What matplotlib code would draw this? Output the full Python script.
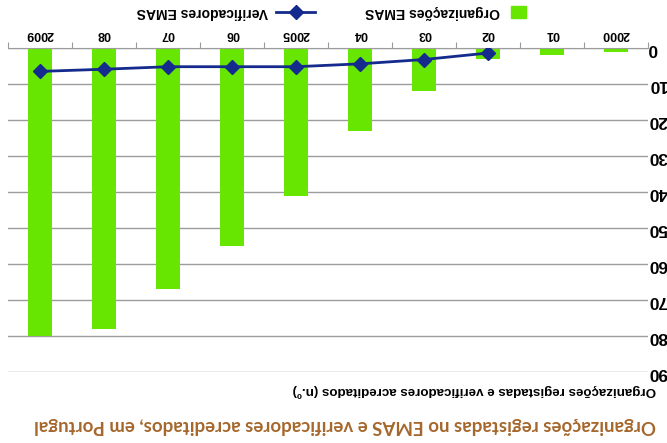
import numpy as np
import matplotlib
matplotlib.use("Agg")
import matplotlib.pyplot as plt
from matplotlib.patches import Rectangle
from matplotlib.lines import Line2D

# data (chart is drawn upside down, as in the reference)
YEARS       = ["2000", "01", "02", "03", "04", "2005", "06", "07", "08", "2009"]
ORGS_EMAS   = [1, 2, 3, 12, 23, 41, 55, 67, 78, 80]
VERIF_YEARS = ["02", "03", "04", "2005", "06", "07", "08", "2009"]
VERIF_EMAS  = [1.4, 3.2, 4.4, 5.2, 5.2, 5.2, 5.9, 6.5]
Y_TICKS     = list(range(0, 91, 10))

TITLE  = "Organizações registadas no EMAS e verificadores acreditados, em Portugal"
YLABEL = "Organizações registadas e verificadores acreditados (n.º)"

GREEN = "#66e600"
NAVY  = "#142a8c"
GRID  = "#9c9c9c"
BROWN = "#a5672c"

W, H = 667, 443
fig = plt.figure(figsize=(W / 100, H / 100), dpi=100)
ax = fig.add_axes([8 / W, 1 - 372 / H, 640 / W, 324 / H])

x = np.arange(len(YEARS))
xv = np.array([YEARS.index(y) for y in VERIF_YEARS])

ax.bar(x, ORGS_EMAS, width=0.37, color=GREEN, zorder=2)
ax.plot(xv, VERIF_EMAS, color=NAVY, lw=2, marker="D", ms=6.8,
        mfc=NAVY, mec=NAVY, zorder=3)

ax.set_xlim(len(YEARS) - 0.5, -0.5)
ax.set_ylim(90, 0)

# y axis on the right, labels turned over (cut by the figure edge)
ax.yaxis.tick_right()
ax.set_yticks(Y_TICKS)
ax.set_yticklabels([str(v) for v in Y_TICKS], rotation=180, fontsize=12.5,
                   fontweight="bold", family="Liberation Sans", ha="left", va="center")
ax.tick_params(axis="y", length=0, pad=0)
ax.yaxis.grid(True, color=GRID, lw=1, zorder=0)
ax.set_axisbelow(True)

# x axis on top: tick marks between categories, labels at centres
ax.xaxis.tick_top()
ax.set_xticks(np.arange(-0.5, len(YEARS), 1.0))
ax.set_xticklabels([])
ax.set_xticks(x, minor=True)
ax.set_xticklabels(YEARS, minor=True, rotation=180, fontsize=9,
                   fontweight="bold", family="Liberation Sans", va="bottom")
ax.tick_params(axis="x", which="major", length=4, color=GRID, direction="out")
ax.tick_params(axis="x", which="minor", length=0, pad=6)

for s in ["left", "right", "bottom"]:
    ax.spines[s].set_visible(False)
ax.spines["top"].set_color(GRID)

# texts
fig.text(656 / W, 1 - 390 / H, YLABEL, rotation=180, ha="right", va="center",
         fontsize=9.6, fontweight="bold", family="Liberation Sans")
fig.text(656 / W, 1 - 425 / H, TITLE, rotation=180, ha="right", va="center",
         fontsize=13.4, fontweight="bold", family="Lato", color=BROWN)

# legend (upside down)
fig.patches.append(Rectangle((511 / W, 1 - 18 / H), 15 / W, 12 / H,
                             transform=fig.transFigure, color=GREEN))
fig.text(500 / W, 1 - 12 / H, "Organizações EMAS", rotation=180, ha="right",
         va="center", fontsize=10, fontweight="bold", family="Liberation Sans")
fig.lines.append(Line2D([276 / W, 315 / W], [1 - 12 / H, 1 - 12 / H],
                        transform=fig.transFigure, color=NAVY, lw=2))
fig.lines.append(Line2D([295.5 / W], [1 - 12 / H], transform=fig.transFigure,
                        color=NAVY, marker="D", ms=6.8, ls="none"))
fig.text(268 / W, 1 - 12 / H, "Verificadores EMAS", rotation=180, ha="right",
         va="center", fontsize=10, fontweight="bold", family="Liberation Sans")

fig.savefig("out.png", dpi=100)
